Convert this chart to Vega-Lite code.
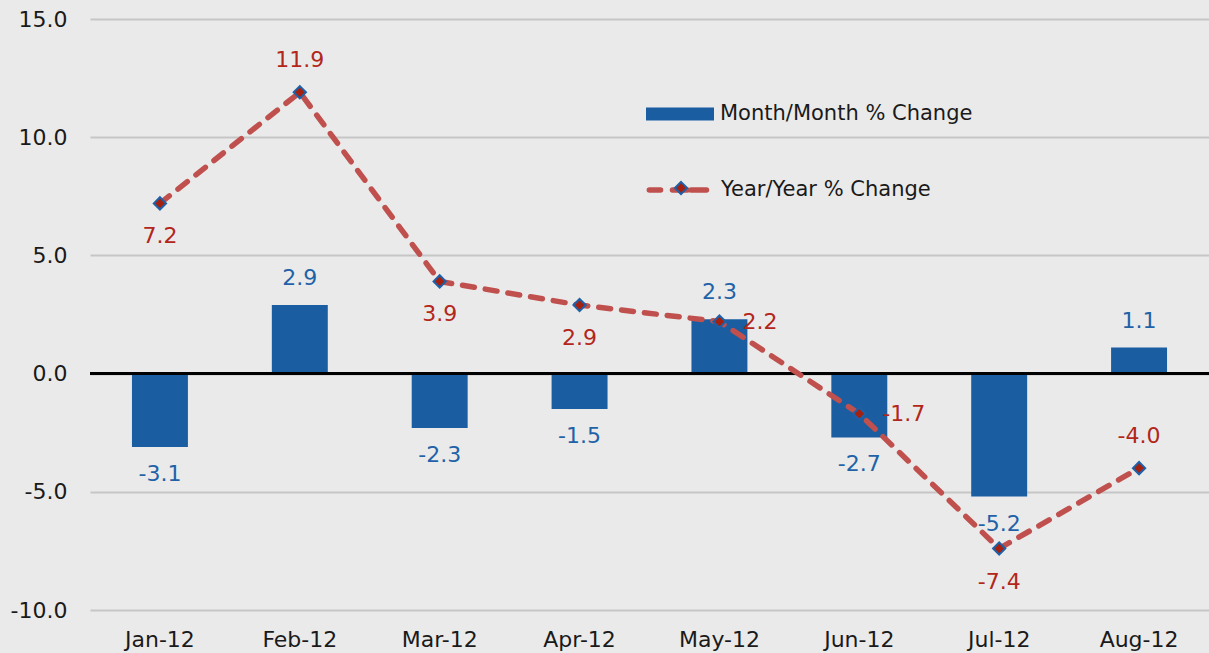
{
  "$schema": "https://vega.github.io/schema/vega-lite/v6.json",
  "autosize": "none",
  "width": 1119,
  "height": 591,
  "padding": {"left": 90, "top": 19, "right": 0, "bottom": 43},
  "background": "#eaeaea",
  "config": {
    "view": {"stroke": null},
    "font": "DejaVu Sans",
    "locale": {"number": {"decimal": ".", "thousands": ",", "grouping": [3], "currency": ["$", ""], "minus": "-"}},
    "axis": {"labelFont": "DejaVu Sans", "labelFontSize": 22, "labelColor": "#1a1a1a"},
    "legend": {"labelFont": "DejaVu Sans", "labelFontSize": 21, "labelColor": "#1a1a1a", "padding": 0, "labelLimit": 0}
  },
  "data": {
    "values": [
      {"month": "Jan-12", "mom": -3.1, "yoy": 7.2},
      {"month": "Feb-12", "mom": 2.9, "yoy": 11.9},
      {"month": "Mar-12", "mom": -2.3, "yoy": 3.9},
      {"month": "Apr-12", "mom": -1.5, "yoy": 2.9},
      {"month": "May-12", "mom": 2.3, "yoy": 2.2},
      {"month": "Jun-12", "mom": -2.7, "yoy": -1.7},
      {"month": "Jul-12", "mom": -5.2, "yoy": -7.4},
      {"month": "Aug-12", "mom": 1.1, "yoy": -4.0}
    ]
  },
  "layer": [
    {
      "mark": {"type": "bar"},
      "encoding": {
        "x": {
          "field": "month", "type": "nominal", "sort": null,
          "scale": {"paddingInner": 0.6, "paddingOuter": 0.3},
          "axis": {"title": null, "ticks": false, "domain": false, "labelPadding": 19, "labelAngle": 0, "grid": false}
        },
        "y": {
          "field": "mom", "type": "quantitative",
          "scale": {"domain": [-10, 15], "nice": false, "zero": false},
          "axis": {
            "title": null, "values": [-10, -5, 0, 5, 10, 15], "format": ".1f", "ticks": false, "domain": false, "labelPadding": 23,
            "grid": true, "gridColor": "#c6c6c6", "gridWidth": 2
          }
        },
        "color": {
          "datum": "Month/Month % Change",
          "scale": {"range": ["#1a5da0"]},
          "legend": {
            "title": null, "orient": "none", "legendX": 556, "legendY": 61,
            "symbolType": "M-1,-0.19H1V0.19H-1Z", "symbolSize": 4624, "symbolStrokeWidth": 0,
            "labelOffset": 6
          }
        }
      }
    },
    {
      "mark": {"type": "rule", "color": "#000000", "strokeWidth": 2.5},
      "encoding": {"y": {"datum": 0}}
    },
    {
      "mark": {"type": "line", "strokeWidth": 5.5, "strokeDash": [12, 11], "strokeCap": "round"},
      "encoding": {
        "x": {"field": "month", "type": "nominal", "sort": null},
        "y": {"field": "yoy", "type": "quantitative"},
        "stroke": {
          "datum": "Year/Year % Change",
          "scale": {"range": ["#c0504d"]},
          "legend": {
            "title": null, "orient": "none", "legendX": 556, "legendY": 134,
            "symbolType": "M-0.99,0H-0.66M-0.31,0H0.12M0.24,0H0.69", "symbolSize": 4624, "symbolStrokeWidth": 5.5,
            "symbolDash": [1000, 1], "symbolFillColor": "transparent",
            "labelOffset": 1,
            "encode": {"symbols": {"update": {"strokeCap": {"value": "round"}}}}
          }
        }
      }
    },
    {
      "mark": {"type": "point", "shape": "diamond", "filled": true, "size": 150, "stroke": "#1f60a8", "strokeWidth": 2, "opacity": 1},
      "encoding": {
        "x": {"field": "month", "type": "nominal", "sort": null},
        "y": {"field": "yoy", "type": "quantitative"},
        "fill": {
          "datum": "yoy marker",
          "scale": {"range": ["#a5200e"]},
          "legend": {
            "title": null, "orient": "none", "legendX": 556, "legendY": 134,
            "symbolType": "M0,-0.18L0.18,0L0,0.18L-0.18,0Z", "symbolSize": 4624,
            "symbolStrokeColor": "#1f60a8", "symbolStrokeWidth": 2, "symbolOpacity": 1,
            "labelExpr": "''"
          }
        }
      }
    },
    {
      "transform": [{"filter": "datum.mom > 0"}],
      "mark": {"type": "text", "dy": -27, "fontSize": 22, "color": "#1f62a8", "baseline": "middle"},
      "encoding": {"x": {"field": "month", "type": "nominal", "sort": null}, "y": {"field": "mom", "type": "quantitative"}, "text": {"field": "mom", "type": "quantitative", "format": ".1f"}}
    },
    {
      "transform": [{"filter": "datum.mom < 0"}],
      "mark": {"type": "text", "dy": 27, "fontSize": 22, "color": "#1f62a8", "baseline": "middle"},
      "encoding": {"x": {"field": "month", "type": "nominal", "sort": null}, "y": {"field": "mom", "type": "quantitative"}, "text": {"field": "mom", "type": "quantitative", "format": ".1f"}}
    },
    {
      "transform": [{"filter": {"field": "month", "oneOf": ["Feb-12", "Aug-12"]}}],
      "mark": {"type": "text", "dy": -32, "fontSize": 22, "color": "#b3261a", "baseline": "middle"},
      "encoding": {"x": {"field": "month", "type": "nominal", "sort": null}, "y": {"field": "yoy", "type": "quantitative"}, "text": {"field": "yoy", "type": "quantitative", "format": ".1f"}}
    },
    {
      "transform": [{"filter": {"field": "month", "oneOf": ["Jan-12", "Mar-12", "Apr-12", "Jul-12"]}}],
      "mark": {"type": "text", "dy": 33, "fontSize": 22, "color": "#b3261a", "baseline": "middle"},
      "encoding": {"x": {"field": "month", "type": "nominal", "sort": null}, "y": {"field": "yoy", "type": "quantitative"}, "text": {"field": "yoy", "type": "quantitative", "format": ".1f"}}
    },
    {
      "transform": [{"filter": {"field": "month", "oneOf": ["May-12", "Jun-12"]}}],
      "mark": {"type": "text", "dx": 23, "fontSize": 22, "color": "#b3261a", "baseline": "middle", "align": "left"},
      "encoding": {"x": {"field": "month", "type": "nominal", "sort": null}, "y": {"field": "yoy", "type": "quantitative"}, "text": {"field": "yoy", "type": "quantitative", "format": ".1f"}}
    }
  ]
}
